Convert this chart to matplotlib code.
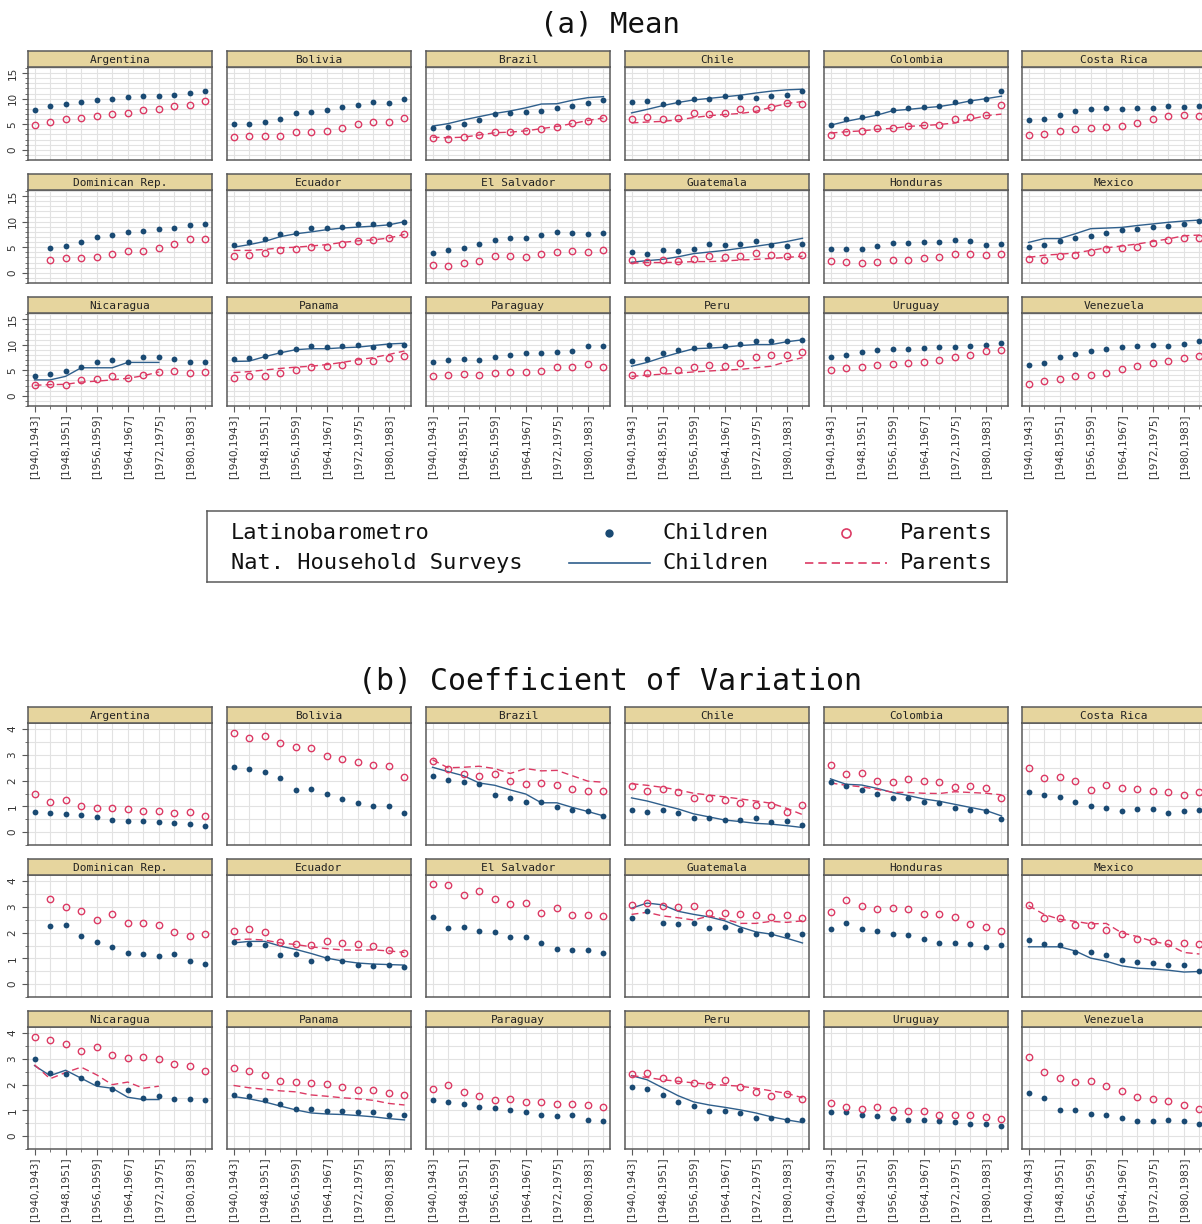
import numpy as np
import matplotlib.pyplot as plt
from matplotlib.lines import Line2D

nan = np.nan

countries = ["Argentina", "Bolivia", "Brazil", "Chile", "Colombia", "Costa Rica",
             "Dominican Rep.", "Ecuador", "El Salvador", "Guatemala", "Honduras", "Mexico",
             "Nicaragua", "Panama", "Paraguay", "Peru", "Uruguay", "Venezuela"]

cohorts = ["[1940,1943]", "[1944,1947]", "[1948,1951]", "[1952,1955]", "[1956,1959]",
           "[1960,1963]", "[1964,1967]", "[1968,1971]", "[1972,1975]", "[1976,1979]",
           "[1980,1983]", "[1984,1987]"]

# (a) mean years of schooling, Latinobarometro
mean_lb_children = {
    "Argentina": [7.84, 8.64, 8.89, 9.32, 9.75, 9.94, 10.3, 10.5, 10.6, 10.8, 11.2, 11.5],
    "Bolivia": [5.0, 5.12, 5.43, 5.99, 7.16, 7.35, 7.72, 8.33, 8.77, 9.32, 9.14, 10.0],
    "Brazil": [4.32, 4.38, 5.06, 5.86, 6.98, 7.22, 7.47, 7.65, 8.15, 8.64, 9.07, 9.69],
    "Chile": [9.26, 9.51, 8.89, 9.26, 10.0, 9.88, 10.43, 10.37, 10.06, 10.62, 10.74, 11.48],
    "Colombia": [4.88, 6.11, 6.42, 7.28, 7.78, 8.09, 8.33, 8.52, 9.38, 9.63, 10.0, 11.48],
    "Costa Rica": [5.8, 6.05, 6.85, 7.65, 7.96, 8.15, 7.9, 8.09, 8.21, 8.58, 8.33, 8.52],
    "Dominican Rep.": [nan, 4.81, 5.19, 6.0, 7.06, 7.44, 8.06, 8.25, 8.63, 8.69, 9.31, 9.56],
    "Ecuador": [5.5, 6.06, 6.56, 7.5, 7.88, 8.75, 8.69, 9.0, 9.63, 9.56, 9.63, 10.0],
    "El Salvador": [3.94, 4.44, 4.81, 5.63, 6.5, 6.88, 6.75, 7.31, 8.06, 7.81, 7.63, 7.81],
    "Guatemala": [4.06, 3.69, 4.5, 4.25, 4.75, 5.69, 5.38, 5.63, 6.25, 5.5, 5.19, 5.63],
    "Honduras": [4.56, 4.56, 4.69, 5.19, 5.81, 5.81, 6.06, 6.06, 6.44, 6.13, 5.5, 5.69],
    "Mexico": [5.13, 5.5, 6.31, 6.75, 7.25, 7.69, 8.31, 8.56, 8.94, 9.25, 9.5, 10.13],
    "Nicaragua": [3.86, 4.29, 4.92, 5.72, 6.53, 7.09, 6.6, 7.59, 7.53, 7.28, 6.66, 6.66],
    "Panama": [7.16, 7.34, 7.78, 8.59, 9.21, 9.65, 9.52, 9.65, 9.96, 9.58, 9.96, 10.02],
    "Paraguay": [6.53, 6.91, 7.16, 7.03, 7.65, 7.97, 8.28, 8.28, 8.59, 8.77, 9.77, 9.65],
    "Peru": [6.85, 7.22, 8.28, 8.96, 9.4, 10.02, 9.83, 10.08, 10.77, 10.7, 10.77, 10.95],
    "Uruguay": [7.65, 8.03, 8.53, 8.96, 9.08, 9.21, 9.27, 9.46, 9.58, 9.71, 10.02, 10.33],
    "Venezuela": [5.97, 6.41, 7.53, 8.15, 8.71, 9.09, 9.52, 9.77, 9.96, 9.83, 10.21, 10.77],
}
mean_lb_parents = {
    "Argentina": [4.94, 5.49, 5.99, 6.17, 6.67, 6.91, 7.22, 7.72, 7.96, 8.52, 8.83, 9.57],
    "Bolivia": [2.59, 2.65, 2.65, 2.65, 3.4, 3.46, 3.58, 4.2, 5.06, 5.37, 5.37, 6.23],
    "Brazil": [2.28, 2.04, 2.47, 2.9, 3.46, 3.4, 3.7, 4.14, 4.51, 5.31, 5.62, 6.23],
    "Chile": [6.05, 6.42, 6.05, 6.17, 7.16, 6.91, 7.28, 7.96, 7.9, 8.4, 9.07, 9.01],
    "Colombia": [2.84, 3.52, 3.58, 4.32, 4.26, 4.63, 4.81, 4.81, 6.11, 6.36, 6.85, 8.77],
    "Costa Rica": [2.96, 3.15, 3.77, 4.14, 4.32, 4.44, 4.63, 5.31, 5.93, 6.54, 6.79, 6.54],
    "Dominican Rep.": [nan, 2.44, 2.81, 2.88, 3.0, 3.75, 4.19, 4.25, 4.94, 5.69, 6.56, 6.63],
    "Ecuador": [3.31, 3.44, 3.88, 4.5, 4.69, 5.0, 5.0, 5.56, 6.19, 6.44, 6.75, 7.56],
    "El Salvador": [1.56, 1.38, 1.88, 2.38, 3.25, 3.25, 3.0, 3.75, 4.13, 4.19, 4.0, 4.5],
    "Guatemala": [2.5, 2.13, 2.5, 2.25, 2.69, 3.25, 3.13, 3.25, 3.88, 3.5, 3.31, 3.5],
    "Honduras": [2.31, 2.06, 1.88, 2.19, 2.56, 2.56, 2.88, 3.13, 3.69, 3.69, 3.5, 3.69],
    "Mexico": [2.69, 2.5, 3.25, 3.5, 4.06, 4.69, 4.81, 5.0, 5.88, 6.44, 6.88, 6.88],
    "Nicaragua": [2.05, 2.3, 2.18, 3.05, 3.3, 3.8, 3.42, 4.04, 4.67, 4.85, 4.42, 4.67],
    "Panama": [3.48, 3.92, 3.92, 4.42, 4.98, 5.6, 5.79, 6.04, 6.72, 6.72, 7.34, 7.84],
    "Paraguay": [3.8, 4.04, 4.23, 3.98, 4.42, 4.73, 4.67, 4.92, 5.54, 5.66, 6.16, 5.66],
    "Peru": [4.11, 4.42, 4.98, 5.04, 5.54, 6.04, 5.85, 6.47, 7.53, 7.97, 7.97, 8.53],
    "Uruguay": [5.1, 5.41, 5.6, 6.04, 6.16, 6.47, 6.66, 7.03, 7.59, 7.97, 8.77, 8.9],
    "Venezuela": [2.36, 2.99, 3.24, 3.92, 4.11, 4.54, 5.29, 5.91, 6.41, 6.78, 7.47, 7.78],
}
# (a) national household surveys
mean_hh_children = {
    "Brazil": [4.63, 5.12, 5.86, 6.48, 7.1, 7.59, 8.21, 8.95, 9.01, 9.69, 10.2, 10.4],
    "Chile": [7.22, 7.9, 8.64, 9.26, 9.75, 10.06, 10.37, 10.68, 11.11, 11.48, 11.73, 11.85],
    "Colombia": [4.81, 5.56, 6.17, 6.79, 7.65, 7.9, 8.21, 8.46, 8.95, 9.57, 10.0, 10.49],
    "Ecuador": [5.0, 5.5, 6.13, 7.06, 7.63, 8.0, 8.44, 8.75, 8.94, 9.13, 9.38, 10.0],
    "Guatemala": [2.06, 2.38, 2.63, 3.13, 3.75, 4.06, 4.38, 4.81, 5.19, 5.63, 6.13, 6.75],
    "Mexico": [5.94, 6.69, 6.69, 7.63, 8.63, 8.75, 8.88, 9.25, 9.56, 9.88, 10.13, 10.31],
    "Nicaragua": [3.11, 3.11, 3.8, 5.48, 5.48, 5.48, 6.53, 6.53, 6.53],
    "Panama": [6.72, 6.78, 7.65, 8.4, 9.02, 9.21, 9.21, 9.4, 9.52, 9.83, 10.14, 10.27],
    "Peru": [5.79, 6.53, 7.53, 8.4, 9.21, 9.33, 9.52, 9.83, 10.02, 10.02, 10.58, 10.95],
}
mean_hh_parents = {
    "Brazil": [2.47, 2.35, 2.47, 2.9, 3.33, 3.46, 3.7, 4.14, 4.57, 5.12, 5.74, 6.23],
    "Chile": [5.25, 5.43, 5.56, 5.86, 6.3, 6.67, 6.91, 7.1, 7.53, 8.33, 9.07, 9.44],
    "Colombia": [3.27, 3.52, 3.7, 4.01, 4.2, 4.57, 4.75, 4.94, 5.25, 5.99, 6.67, 6.98],
    "Ecuador": [4.38, 4.38, 4.56, 4.88, 5.0, 5.25, 5.5, 5.94, 6.25, 6.44, 6.81, 7.5],
    "Guatemala": [1.88, 2.0, 2.0, 2.06, 2.19, 2.19, 2.31, 2.5, 2.63, 2.81, 3.0, 3.25],
    "Mexico": [3.0, 3.44, 3.63, 3.88, 4.38, 4.88, 5.25, 5.63, 6.13, 6.63, 7.25, 7.38],
    "Nicaragua": [2.05, 2.18, 2.24, 2.68, 2.86, 3.11, 3.42, 3.92, 4.67],
    "Panama": [4.54, 4.73, 5.04, 5.35, 5.6, 5.79, 6.1, 6.53, 7.03, 7.47, 8.09, 8.77],
    "Peru": [3.8, 4.04, 4.23, 4.42, 4.67, 4.85, 5.04, 5.16, 5.48, 5.79, 6.72, 7.47],
}

# (b) coefficient of variation, Latinobarometro
cv_lb_children = {
    "Argentina": [0.8, 0.73, 0.71, 0.65, 0.59, 0.49, 0.44, 0.42, 0.38, 0.34, 0.3, 0.22],
    "Bolivia": [2.52, 2.45, 2.33, 2.09, 1.64, 1.69, 1.49, 1.27, 1.14, 1.01, 1.02, 0.74],
    "Brazil": [2.19, 2.03, 1.96, 1.87, 1.44, 1.34, 1.19, 1.16, 0.97, 0.86, 0.81, 0.63],
    "Chile": [0.87, 0.79, 0.87, 0.74, 0.54, 0.55, 0.46, 0.49, 0.54, 0.39, 0.44, 0.28],
    "Colombia": [1.93, 1.8, 1.65, 1.47, 1.32, 1.32, 1.17, 1.14, 0.92, 0.87, 0.82, 0.52],
    "Costa Rica": [1.54, 1.45, 1.35, 1.17, 1.01, 0.92, 0.82, 0.89, 0.9, 0.76, 0.81, 0.86],
    "Dominican Rep.": [nan, 2.26, 2.3, 1.88, 1.62, 1.46, 1.21, 1.19, 1.11, 1.16, 0.9, 0.78],
    "Ecuador": [1.64, 1.56, 1.51, 1.12, 1.18, 0.91, 1.02, 0.9, 0.76, 0.71, 0.74, 0.68],
    "El Salvador": [2.6, 2.17, 2.23, 2.06, 2.01, 1.85, 1.82, 1.58, 1.38, 1.32, 1.32, 1.21],
    "Guatemala": [2.55, 2.83, 2.38, 2.34, 2.36, 2.18, 2.22, 2.12, 1.96, 1.93, 1.9, 1.93],
    "Honduras": [2.13, 2.38, 2.15, 2.07, 1.94, 1.91, 1.76, 1.61, 1.61, 1.55, 1.46, 1.53],
    "Mexico": [1.72, 1.56, 1.51, 1.25, 1.23, 1.13, 0.94, 0.86, 0.84, 0.76, 0.76, 0.52],
    "Nicaragua": [2.99, 2.47, 2.42, 2.24, 2.07, 1.82, 1.78, 1.5, 1.54, 1.46, 1.46, 1.42],
    "Panama": [1.59, 1.55, 1.39, 1.26, 1.06, 1.05, 0.98, 0.98, 0.92, 0.94, 0.84, 0.81],
    "Paraguay": [1.4, 1.32, 1.26, 1.12, 1.08, 1.02, 0.94, 0.84, 0.79, 0.82, 0.62, 0.58],
    "Peru": [1.9, 1.83, 1.6, 1.33, 1.16, 0.97, 0.97, 0.9, 0.7, 0.69, 0.64, 0.62],
    "Uruguay": [0.95, 0.94, 0.82, 0.78, 0.69, 0.63, 0.62, 0.58, 0.54, 0.48, 0.47, 0.41],
    "Venezuela": [1.66, 1.49, 1.03, 1.01, 0.87, 0.81, 0.7, 0.6, 0.59, 0.63, 0.58, 0.48],
}
cv_lb_parents = {
    "Argentina": [1.49, 1.17, 1.24, 1.02, 0.92, 0.92, 0.91, 0.84, 0.82, 0.74, 0.79, 0.64],
    "Bolivia": [3.86, 3.67, 3.72, 3.48, 3.31, 3.26, 2.97, 2.83, 2.72, 2.6, 2.56, 2.13],
    "Brazil": [2.78, 2.47, 2.25, 2.2, 2.24, 2.0, 1.87, 1.92, 1.82, 1.67, 1.6, 1.6],
    "Chile": [1.78, 1.6, 1.66, 1.54, 1.33, 1.32, 1.24, 1.12, 1.05, 1.07, 0.79, 1.07],
    "Colombia": [2.61, 2.26, 2.3, 1.99, 1.93, 2.08, 1.97, 1.96, 1.77, 1.81, 1.71, 1.32],
    "Costa Rica": [2.49, 2.12, 2.14, 2.0, 1.62, 1.83, 1.71, 1.69, 1.6, 1.55, 1.46, 1.55],
    "Dominican Rep.": [nan, 3.32, 3.0, 2.83, 2.51, 2.74, 2.39, 2.38, 2.28, 2.03, 1.88, 1.94],
    "Ecuador": [2.08, 2.14, 2.02, 1.62, 1.56, 1.51, 1.66, 1.6, 1.54, 1.48, 1.33, 1.21],
    "El Salvador": [3.9, 3.86, 3.47, 3.63, 3.32, 3.1, 3.14, 2.77, 2.97, 2.67, 2.67, 2.63],
    "Guatemala": [3.06, 3.16, 3.03, 3.0, 3.02, 2.77, 2.77, 2.73, 2.7, 2.62, 2.67, 2.58],
    "Honduras": [2.79, 3.27, 3.05, 2.9, 2.94, 2.9, 2.71, 2.74, 2.62, 2.34, 2.23, 2.06],
    "Mexico": [3.09, 2.55, 2.55, 2.28, 2.28, 2.1, 1.96, 1.77, 1.68, 1.61, 1.59, 1.54],
    "Nicaragua": [3.85, 3.75, 3.59, 3.29, 3.48, 3.15, 3.04, 3.09, 3.0, 2.81, 2.72, 2.54],
    "Panama": [2.65, 2.52, 2.38, 2.13, 2.1, 2.06, 2.01, 1.92, 1.81, 1.81, 1.66, 1.58],
    "Paraguay": [1.83, 1.97, 1.71, 1.56, 1.42, 1.45, 1.34, 1.34, 1.26, 1.24, 1.22, 1.12],
    "Peru": [2.42, 2.46, 2.25, 2.19, 2.06, 1.98, 2.17, 1.9, 1.7, 1.55, 1.64, 1.45],
    "Uruguay": [1.27, 1.12, 1.07, 1.12, 1.02, 0.97, 0.97, 0.82, 0.82, 0.82, 0.74, 0.68],
    "Venezuela": [3.06, 2.49, 2.25, 2.09, 2.15, 1.96, 1.76, 1.53, 1.45, 1.38, 1.21, 1.07],
}
# (b) national household surveys
cv_hh_children = {
    "Brazil": [2.52, 2.35, 2.19, 1.91, 1.82, 1.64, 1.48, 1.14, 1.14, 0.96, 0.8, 0.63],
    "Chile": [1.33, 1.21, 1.05, 0.9, 0.71, 0.59, 0.47, 0.41, 0.34, 0.31, 0.25, 0.18],
    "Colombia": [2.07, 1.86, 1.83, 1.7, 1.54, 1.42, 1.29, 1.2, 1.08, 0.96, 0.84, 0.63],
    "Ecuador": [1.6, 1.66, 1.66, 1.48, 1.35, 1.19, 1.01, 0.9, 0.82, 0.78, 0.76, 0.74],
    "Guatemala": [2.95, 3.15, 3.08, 2.83, 2.71, 2.61, 2.46, 2.22, 2.03, 1.94, 1.78, 1.6],
    "Mexico": [1.45, 1.45, 1.45, 1.29, 1.01, 0.89, 0.71, 0.62, 0.59, 0.54, 0.47, 0.49],
    "Nicaragua": [2.74, 2.35, 2.56, 2.25, 1.94, 1.86, 1.51, 1.42, 1.42],
    "Panama": [1.54, 1.45, 1.33, 1.17, 1.02, 0.9, 0.86, 0.84, 0.8, 0.75, 0.68, 0.63],
    "Peru": [2.35, 2.19, 1.88, 1.57, 1.33, 1.21, 1.12, 1.02, 0.9, 0.75, 0.63, 0.53],
}
cv_hh_parents = {
    "Brazil": [2.81, 2.5, 2.52, 2.56, 2.47, 2.28, 2.47, 2.38, 2.4, 2.19, 1.98, 1.94],
    "Chile": [1.88, 1.82, 1.74, 1.64, 1.51, 1.44, 1.37, 1.29, 1.21, 1.12, 0.92, 0.68],
    "Colombia": [1.91, 1.82, 1.76, 1.66, 1.55, 1.54, 1.51, 1.5, 1.57, 1.54, 1.51, 1.45],
    "Ecuador": [1.72, 1.75, 1.71, 1.6, 1.54, 1.45, 1.38, 1.33, 1.32, 1.33, 1.29, 1.23],
    "Guatemala": [2.71, 2.79, 2.65, 2.58, 2.49, 2.65, 2.52, 2.36, 2.36, 2.44, 2.4, 2.46],
    "Mexico": [3.05, 2.71, 2.52, 2.44, 2.34, 2.36, 1.99, 1.85, 1.66, 1.54, 1.23, 1.17],
    "Nicaragua": [2.77, 2.23, 2.47, 2.68, 2.38, 2.0, 2.1, 1.86, 1.94],
    "Panama": [1.97, 1.88, 1.82, 1.76, 1.72, 1.6, 1.55, 1.49, 1.45, 1.39, 1.27, 1.21],
    "Peru": [2.35, 2.28, 2.19, 2.13, 2.07, 2.01, 1.98, 1.94, 1.86, 1.76, 1.66, 1.49],
}

NAVY = "#1a4a73"
LINE_BLUE = "#2f5f8c"
RED = "#dc3a64"
STRIP = "#e6d59e"
EDGE = "#5a5a5a"
GRID = "#e2e2e2"
MONO = "DejaVu Sans Mono"

W, H = 1202, 1224
fig = plt.figure(figsize=(W / 100, H / 100), dpi=100)


def px_axes(left, top, width, height):
    return fig.add_axes([left / W, 1 - (top + height) / H, width / W, height / H])


col_left = [28, 227, 426, 625, 824, 1022]
pw = 184
strip_h = 16


def draw_block(row_tops, ph, lb_c, lb_p, hh_c, hh_p, ylim, yticks, ystep):
    x = np.arange(len(cohorts))
    for i, c in enumerate(countries):
        r, k = divmod(i, 6)
        ax = px_axes(col_left[k], row_tops[r], pw, ph)
        ax.set_xlim(-0.42, len(cohorts) - 0.58)
        ax.set_ylim(*ylim)
        ax.set_xticks(x[::2])
        ax.set_xticks(x[1::2], minor=True)
        ax.set_yticks(yticks)
        ax.set_yticks(np.arange(ylim[0] - ylim[0] % ystep, ylim[1], ystep), minor=True)
        ax.grid(True, which="both", color=GRID, lw=0.8)
        ax.set_axisbelow(True)
        for s in ax.spines.values():
            s.set_color(EDGE)
            s.set_linewidth(1.1)

        if c in hh_c:
            n = len(hh_c[c])
            ax.plot(x[:n], hh_c[c], "-", color=LINE_BLUE, lw=1.0, zorder=2)
            ax.plot(x[:n], hh_p[c], "--", color=RED, lw=1.0, dashes=(5, 3), zorder=2)
        ax.plot(x, lb_c[c], "o", color=NAVY, ms=4.2, mew=0, zorder=3)
        ax.plot(x, lb_p[c], "o", mfc="none", mec=RED, ms=4.6, mew=1.0, zorder=3)

        ax.tick_params(which="both", color=EDGE, direction="out")
        ax.tick_params(which="major", length=4)
        ax.tick_params(which="minor", length=2)
        if k == 0:
            ax.set_yticklabels([str(t) for t in yticks], rotation=90, va="center",
                               fontsize=7.5, color="#333333")
        else:
            ax.tick_params(axis="y", which="both", length=0, labelleft=False)
        if r == 2:
            ax.set_xticklabels(cohorts[::2], rotation=90, fontsize=7.5, color="#333333")
            ax.tick_params(axis="x", pad=2)
        else:
            ax.tick_params(axis="x", which="both", length=0, labelbottom=False)

        sax = px_axes(col_left[k], row_tops[r] - strip_h, pw, strip_h)
        sax.set_facecolor(STRIP)
        sax.set_xticks([])
        sax.set_yticks([])
        for s in sax.spines.values():
            s.set_color(EDGE)
            s.set_linewidth(1.1)
        sax.text(0.5, 0.45, c, transform=sax.transAxes, ha="center", va="center",
                 family=MONO, fontsize=8, color="#222222")


fig.text(610 / W, 1 - 25 / H, "(a) Mean", ha="center", va="center",
         family=MONO, fontsize=21, color="#111111")
draw_block([67, 190, 313], 93, mean_lb_children, mean_lb_parents,
           mean_hh_children, mean_hh_parents, (-1.15, 16.2), [0, 5, 10, 15], 1)

fig.text(610 / W, 1 - 681 / H, "(b) Coefficient of Variation", ha="center", va="center",
         family=MONO, fontsize=21.5, color="#111111")
draw_block([723, 875, 1027], 122, cv_lb_children, cv_lb_parents,
           cv_hh_children, cv_hh_parents, (-0.24, 4.24), [0, 1, 2, 3, 4], 0.5)

# legend box
lax = px_axes(207, 511, 800, 71)
lax.set_xlim(0, 800)
lax.set_ylim(71, 0)
lax.set_xticks([])
lax.set_yticks([])
for s in lax.spines.values():
    s.set_color(EDGE)
    s.set_linewidth(1.1)
lfont = dict(family=MONO, fontsize=15.8, color="#111111", va="center")
lax.text(24, 22, "Latinobarometro", **lfont)
lax.text(24, 52, "Nat. Household Surveys", **lfont)
lax.add_line(Line2D([402], [22], marker="o", color=NAVY, ms=6, mew=0))
lax.text(456, 22, "Children", **lfont)
lax.add_line(Line2D([639], [22], marker="o", mfc="none", mec=RED, ms=6.5, mew=1.2))
lax.text(693, 22, "Parents", **lfont)
lax.add_line(Line2D([362, 443], [52, 52], color=LINE_BLUE, lw=1.2))
lax.text(456, 52, "Children", **lfont)
lax.add_line(Line2D([598, 680], [52, 52], color=RED, lw=1.2, ls="--", dashes=(5, 3)))
lax.text(693, 52, "Parents", **lfont)

fig.savefig("out.png", dpi=100)
